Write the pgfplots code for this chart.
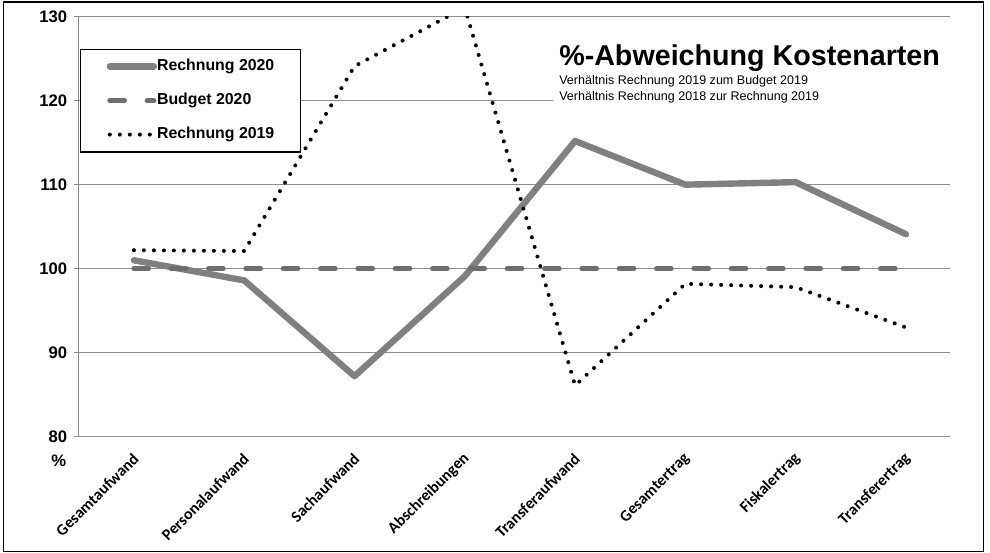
\documentclass[border=0pt]{standalone}
\usepackage{pgfplots}
\pgfplotsset{compat=1.18}
\usepackage{fontspec}
\setmainfont{Liberation Sans}
\newfontfamily\carlito{Carlito}
\definecolor{linegray}{HTML}{808080}
\definecolor{dashgray}{HTML}{6E6E6E}
\definecolor{gridgray}{HTML}{8C8C8C}

\begin{document}
\begin{tikzpicture}[x=0.75pt,y=0.75pt]
\path[use as bounding box] (0,0) rectangle (990,553);
\begin{axis}[
  at={(71.4,138.5)}, anchor=south west,
  scale only axis, width=653.5pt, height=315pt,
  xmin=-0.5, xmax=7.4, ymin=80, ymax=130,
  axis x line*=bottom, axis y line*=left,
  axis line style={gridgray, line width=1.1pt},
  tick align=outside,
  ytick={80,90,...,130},
  ymajorgrids, major grid style={gridgray, line width=0.8pt},
  major tick length=3.5pt,
  tick style={gridgray, line width=0.8pt},
  /pgf/number format/assume math mode=true,
  yticklabel style={font=\bfseries\fontsize{12.5}{14}\selectfont, anchor=east, inner sep=0pt, xshift=-5pt},
  xtick={0,...,7},
  xticklabels={Gesamtaufwand,Personalaufwand,Sachaufwand,Abschreibungen,Transferaufwand,Gesamtertrag,Fiskalertrag,Transferertrag},
  x tick style={draw=none},
  xticklabel style={font=\carlito\bfseries\fontsize{12}{14}\selectfont, rotate=45, anchor=east, inner sep=0pt, yshift=-8.8pt, xshift=-6.6pt},
  extra x ticks={0.5,1.5,...,6.5},
  extra x tick labels={},
  extra x tick style={tick style={draw=gridgray, line width=0.8pt}, major tick length=3.5pt},
  legend style={at={(0.0015,0.924)}, anchor=north west, draw=black, line width=0.9pt, fill=white,
    font=\bfseries\fontsize{11.9}{14}\selectfont, inner xsep=19.5pt, inner ysep=7.5pt,
    row sep=14.4pt, column sep=0pt,
    nodes={inner sep=0pt, text height=8.6pt, text depth=2.5pt}},
  legend cell align=left,
  legend image code/.code={\draw[#1] (0pt,0pt) -- (33pt,0pt);},
]
\addplot[linegray, line width=4.8pt, line cap=round, line join=round] coordinates {
(0,101.0) (1,98.6) (2,87.2) (3,99.1) (4,115.2) (5,110.0) (6,110.3) (7,104.1)};
\addlegendentry{Rechnung 2020}
\addplot[dashgray, line width=3.8pt, line cap=round, dash pattern=on 11pt off 17pt] coordinates {
(0,100) (1,100) (2,100) (3,100) (4,100) (5,100) (6,100) (7,100)};
\addlegendentry{Budget 2020}
\addplot[black, line width=3pt, line cap=round, dash pattern=on 0pt off 7.5pt] coordinates {
(0,102.2) (1,102.1) (2,124.1) (3,131.1) (4,86.1) (5,98.2) (6,97.8) (7,93.0)};
\addlegendentry{Rechnung 2019}
\end{axis}
\fill[white] (553,449) rectangle (956,515);
\node[anchor=base west, inner sep=0pt, font=\bfseries\fontsize{21.5}{24}\selectfont] at (559,487) {\%-Abweichung Kostenarten};
\node[anchor=base west, inner sep=0pt, font=\fontsize{9.4}{11}\selectfont] at (559,468) {Verhältnis Rechnung 2019 zum Budget 2019};
\node[anchor=base west, inner sep=0pt, font=\fontsize{9.4}{11}\selectfont] at (559,452) {Verhältnis Rechnung 2018 zur Rechnung 2019};
\node[anchor=base west, inner sep=0pt, font=\bfseries\fontsize{12.5}{14}\selectfont] at (51,86) {\%};
\draw[black, line width=1.2pt] (3.5,1.5) rectangle (983.5,551);
\end{tikzpicture}
\end{document}
